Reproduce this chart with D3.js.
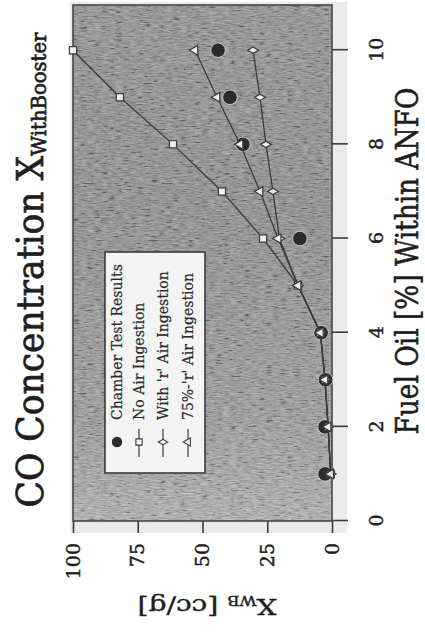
<!DOCTYPE html>
<html>
<head>
<meta charset="utf-8">
<script src="https://cdn.jsdelivr.net/npm/d3@7/dist/d3.min.js"></script>
<style>
  html, body { margin: 0; padding: 0; background: #ffffff; }
  svg { display: block; }
</style>
</head>
<body>
<svg id="chart" width="425" height="638"></svg>
<script>
// Fuel oil content (%) and CO concentration X_WB (cc/g) per series
const fuelOil = [1, 2, 3, 4, 5, 6, 7, 8, 9, 10];
const noAirIngestion = [0.5, 1.5, 2.7, 4.5, 13.1, 26.6, 42.5, 61.4, 81.9, 100];
const withRAirIngestion = [0.5, 1.5, 2.7, 4.5, 13.1, 20.3, 22.8, 25.5, 27.8, 30.5];
const pct75RAirIngestion = [0.5, 1.5, 2.7, 4.5, 13.1, 20.8, 27.8, 35.5, 44.4, 52.9];

const chamberFuelOil = [1, 2, 3, 4, 6, 8, 9, 10];
const chamberResults = [2.7, 2.7, 2.5, 4.2, 12.4, 34.4, 39.4, 44.0];

const xTicks = [0, 2, 4, 6, 8, 10];
const yTicks = [0, 25, 50, 75, 100];

const legendLabels = ["Chamber Test Results", "No Air Ingestion", "With 'r' Air Ingestion", "75%-'r' Air Ingestion"];

const serif = "'DejaVu Serif', serif";
const ink = "#1e1e1e";
const lineInk = "#3a3a3a";

const svg = d3.select("#chart");
const defs = svg.append("defs");

// grainy halftone fill of the plot area
const grad = defs.append("linearGradient").attr("id", "plotShade")
  .attr("x1", "0").attr("y1", "0").attr("x2", "1").attr("y2", "0");
grad.append("stop").attr("offset", "0").attr("stop-color", "#acacac");
grad.append("stop").attr("offset", "0.2").attr("stop-color", "#959595");
grad.append("stop").attr("offset", "0.6").attr("stop-color", "#878787");
grad.append("stop").attr("offset", "1").attr("stop-color", "#8b8b8b");

const grain = defs.append("filter").attr("id", "grain")
  .attr("x", 0).attr("y", 0).attr("width", 1).attr("height", 1);
grain.append("feTurbulence").attr("type", "fractalNoise")
  .attr("baseFrequency", "0.7 0.14").attr("numOctaves", 3).attr("seed", 7);
grain.append("feColorMatrix").attr("type", "matrix")
  .attr("values", "0.33 0.33 0.33 0 0  0.33 0.33 0.33 0 0  0.33 0.33 0.33 0 0  0 0 0 0 1");
const ct = grain.append("feComponentTransfer");
["feFuncR", "feFuncG", "feFuncB"].forEach(f =>
  ct.append(f).attr("type", "linear").attr("slope", 3).attr("intercept", -1));

// plot drawn in its natural orientation, then turned a quarter turn
const W = 516, H = 259;
const x = d3.scaleLinear().domain([0, 10.96]).range([0, W]);
const y = d3.scaleLinear().domain([0, 100]).range([H, 0]);

const g = svg.append("g").attr("transform", "translate(73,521) rotate(-90)");

// pale margin behind the tick marks
g.append("rect")
  .attr("x", -12).attr("y", -3)
  .attr("width", W + 15).attr("height", H + 18)
  .attr("fill", "#ebebeb");

g.append("rect")
  .attr("x", x.range()[0]).attr("y", y.range()[1])
  .attr("width", W).attr("height", H)
  .attr("fill", "url(#plotShade)");
g.append("rect")
  .attr("x", x.range()[0]).attr("y", y.range()[1])
  .attr("width", W).attr("height", H)
  .attr("fill", "#000")
  .attr("filter", "url(#grain)")
  .attr("opacity", 0.3);
g.append("rect")
  .attr("x", x.range()[0]).attr("y", y.range()[1])
  .attr("width", W).attr("height", H)
  .attr("fill", "none").attr("stroke", "#474747").attr("stroke-width", 1.6);

// axes
const xAxis = g.append("g").attr("transform", `translate(0,${H})`)
  .call(d3.axisBottom(x).tickValues(xTicks).tickSize(16).tickPadding(22));
const yAxis = g.append("g")
  .call(d3.axisLeft(y).tickValues(yTicks).tickSize(12).tickPadding(10));
[xAxis, yAxis].forEach(a => {
  a.select(".domain").remove();
  a.selectAll(".tick line").attr("stroke", "#3c3c3c").attr("stroke-width", 1.6);
  a.selectAll(".tick text")
    .attr("font-family", serif).attr("font-size", 19).attr("fill", ink)
    .attr("stroke", ink).attr("stroke-width", 0.45);
});

// chamber test results
g.append("g").selectAll("circle")
  .data(chamberFuelOil.map((f, i) => [f, chamberResults[i]]))
  .join("circle")
  .attr("cx", d => x(d[0])).attr("cy", d => y(d[1]))
  .attr("r", 7.3)
  .attr("fill", "#2c2c2c")
  .attr("stroke", "#c8c8c8").attr("stroke-width", 1);

// model series
const series = [
  { values: noAirIngestion, symbol: d3.symbolSquare, size: 52 },
  { values: withRAirIngestion, symbol: d3.symbolDiamond, size: 34 },
  { values: pct75RAirIngestion, symbol: d3.symbolTriangle, size: 40 }
];
const line = d3.line().x(d => x(d[0])).y(d => y(d[1]));
series.forEach(s => {
  const pts = fuelOil.map((f, i) => [f, s.values[i]]);
  g.append("path").datum(pts)
    .attr("d", line).attr("fill", "none")
    .attr("stroke", lineInk).attr("stroke-width", 1.3);
});
series.forEach(s => {
  const pts = fuelOil.map((f, i) => [f, s.values[i]]);
  g.append("g").selectAll("path")
    .data(pts).join("path")
    .attr("transform", d => `translate(${x(d[0])},${y(d[1])})`)
    .attr("d", d3.symbol(s.symbol, s.size))
    .attr("fill", "#efefef").attr("stroke", lineInk).attr("stroke-width", 1.2);
});

// legend
const lg = g.append("g").attr("transform", "translate(48,32)");
lg.append("rect").attr("width", 221).attr("height", 100)
  .attr("fill", "#f4f4f4").attr("stroke", "#3a3a3a").attr("stroke-width", 1.6);
const rowY = [12, 34, 58, 83];
legendLabels.forEach((lab, i) => {
  const row = lg.append("g").attr("transform", `translate(0,${rowY[i]})`);
  if (i === 0) {
    row.append("circle").attr("cx", 31).attr("cy", 0).attr("r", 5.2).attr("fill", "#2c2c2c");
  } else {
    const s = series[i - 1];
    row.append("line").attr("x1", 16).attr("x2", 44)
      .attr("stroke", lineInk).attr("stroke-width", 1.2);
    row.append("path").attr("transform", "translate(31,0)")
      .attr("d", d3.symbol(s.symbol, s.size * 0.75))
      .attr("fill", "#f4f4f4").attr("stroke", lineInk).attr("stroke-width", 1.1);
  }
  row.append("text").attr("x", 53).attr("y", 0).attr("dy", "0.35em")
    .attr("font-family", serif).attr("font-size", 14).attr("fill", "#2a2a2a")
    .attr("stroke", "#2a2a2a").attr("stroke-width", 0.2)
    .text(lab);
});

// helper: scale factor that makes a label cover a given run length
function fitText(sel, target) {
  const len = sel.node().getComputedTextLength();
  return target / len;
}

// chart title
const title = g.append("text")
  .attr("font-family", serif).attr("font-size", 37).attr("fill", ink)
  .attr("stroke", ink).attr("stroke-width", 0.7)
  .attr("text-anchor", "middle");
title.append("tspan").text("CO Concentration X");
title.append("tspan").attr("font-size", 21).attr("dy", 3).text("WithBooster");
const ts = fitText(title, 475);
title.attr("transform", `translate(251,-30) scale(${ts},1)`);

// x axis title
const xTitle = g.append("text")
  .attr("font-family", serif).attr("font-size", 31).attr("fill", ink)
  .attr("stroke", ink).attr("stroke-width", 0.6)
  .attr("text-anchor", "middle").text("Fuel Oil [%] Within ANFO");
const xs = fitText(xTitle, 347);
xTitle.attr("transform", `translate(260,${H + 86}) scale(${xs},1)`);

// y axis title
const yTitle = g.append("text")
  .attr("font-family", serif).attr("font-size", 22).attr("fill", ink)
  .attr("stroke", ink).attr("stroke-width", 0.4)
  .attr("text-anchor", "middle");
yTitle.append("tspan").text("X");
yTitle.append("tspan").attr("font-size", 13).attr("dy", 3).text("WB");
yTitle.append("tspan").attr("dy", -3).text(" [cc/g]");
const ys = fitText(yTitle, 139);
yTitle.attr("transform", `translate(-78,134) rotate(-90) scale(${ys},1)`);
</script>
</body>
</html>
